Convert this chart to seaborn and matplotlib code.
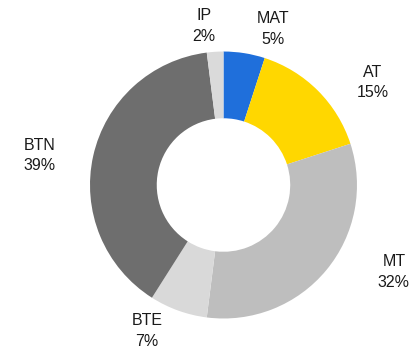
import matplotlib
matplotlib.use("Agg")
import matplotlib.pyplot as plt
import seaborn as sns

sns.set_theme(style="white")
plt.rcParams["font.family"] = ["Liberation Sans", "DejaVu Sans"]

categories = ["MAT", "AT", "MT", "BTE", "BTN", "IP"]
shares = [5, 15, 32, 7, 39, 2]
colors = ["#1F6FDB", "#FFD700", "#BEBEBE", "#D9D9D9", "#6E6E6E", "#DADADA"]

# label anchor points (axes data units, donut radius = 1)
label_x = [0.371, 1.116, 1.277, -0.573, -1.375, -0.148]
label_y = [1.169, 0.768, -0.652, -1.094, 0.221, 1.190]

fig = plt.figure(figsize=(4.16, 3.5), dpi=100)
ax = fig.add_axes([0, 0, 1, 1])

ax.pie(shares, colors=colors, startangle=90, counterclock=False,
       radius=1.0, wedgeprops=dict(width=0.5, linewidth=0))

for name, val, x, y in zip(categories, shares, label_x, label_y):
    ax.text(x, y, f"{name}\n{val}%", ha="center", va="center",
            fontsize=11.5, color="#1a1a1a", linespacing=1.45)

ax.set_xlim(-1.674, 1.442)
ax.set_ylim(-1.236, 1.386)
ax.set_aspect("equal")
ax.axis("off")

fig.savefig("out.png", dpi=100, facecolor="white")
